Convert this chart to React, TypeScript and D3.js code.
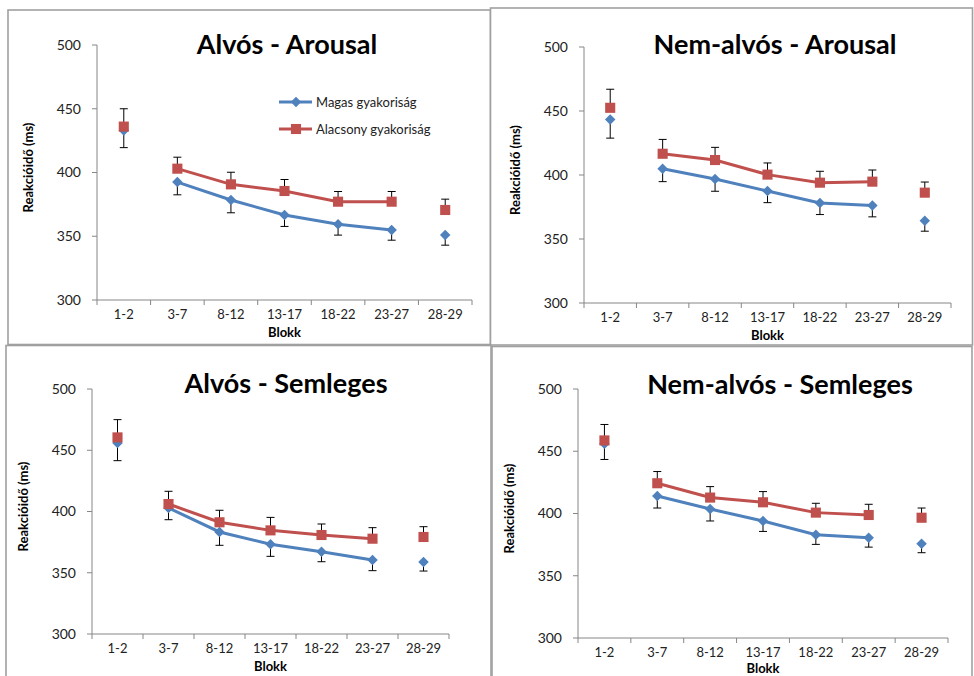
import * as d3 from "d3";

// Blokk categories on the x axis
const categories = ["1-2", "3-7", "8-12", "13-17", "18-22", "23-27", "28-29"];
// which points are joined by the series line
const linked = [false, true, true, true, true, true, false];
const yTicks = [300, 350, 400, 450, 500];

const seriesNames = ["Magas gyakoriság", "Alacsony gyakoriság"];
const titles = ["Alvós - Arousal", "Nem-alvós - Arousal", "Alvós - Semleges", "Nem-alvós - Semleges"];

// Alvós - Arousal
const alvosArousalMagas = [433, 392.5, 378.4, 366.7, 359.4, 354.9, 351];
const alvosArousalMagasErr = [13.5, 10, 10, 9, 8.5, 8, 8];
const alvosArousalAlacsony = [436, 403, 390.7, 385.5, 377.1, 377.1, 370.6];
const alvosArousalAlacsonyErr = [14, 9, 9.5, 9, 8, 8, 8.5];

// Nem-alvós - Arousal
const nemAlvosArousalMagas = [443.4, 404.9, 396.9, 387.5, 378.2, 376.1, 364.2];
const nemAlvosArousalMagasErr = [14.6, 10.1, 9.6, 9.1, 9.1, 8.8, 8.1];
const nemAlvosArousalAlacsony = [452.5, 416.6, 411.7, 400.3, 394, 394.8, 386.2];
const nemAlvosArousalAlacsonyErr = [14.5, 11.2, 9.9, 9.1, 8.9, 9.1, 8.3];

// Alvós - Semleges
const alvosSemlegesMagas = [455.9, 402.9, 383.3, 373.2, 367.2, 360.4, 358.8];
const alvosSemlegesMagasErr = [14.4, 9.6, 10.9, 9.8, 8.2, 8.7, 7.4];
const alvosSemlegesAlacsony = [460.5, 406.1, 391.2, 384.6, 380.8, 377.8, 379.2];
const alvosSemlegesAlacsonyErr = [14.5, 10.4, 9.8, 10.6, 9, 9, 8.4];

// Nem-alvós - Semleges
const nemAlvosSemlegesMagas = [456, 414.1, 403.6, 394, 382.9, 380.5, 375.7];
const nemAlvosSemlegesMagasErr = [12.6, 9.7, 9.6, 8.4, 7.7, 7.5, 7.2];
const nemAlvosSemlegesAlacsony = [458.7, 424.3, 412.8, 409, 400.7, 398.8, 396.6];
const nemAlvosSemlegesAlacsonyErr = [12.8, 9.4, 8.8, 8.6, 7.5, 8.6, 7.8];

const BLUE = "#4F81BD";
const RED = "#C0504D";
const AXIS = "#868686";
const FRAME = "#a0a0a0";
const FONT = "Lato, 'Open Sans', sans-serif";

// frame, plot area and title anchor for each panel
const panels = [
  { frame: [8, 10, 490.5, 344.5], plot: [97, 472, 45, 300], title: [287, 54], legend: true,
    magas: alvosArousalMagas, magasErr: alvosArousalMagasErr,
    alacsony: alvosArousalAlacsony, alacsonyErr: alvosArousalAlacsonyErr },
  { frame: [490.5, 8, 972.5, 345], plot: [584, 951, 47, 303], title: [775, 54], legend: false,
    magas: nemAlvosArousalMagas, magasErr: nemAlvosArousalMagasErr,
    alacsony: nemAlvosArousalAlacsony, alacsonyErr: nemAlvosArousalAlacsonyErr },
  { frame: [6, 345.5, 491, 690], plot: [92, 449, 389, 634], title: [286, 393], legend: false,
    magas: alvosSemlegesMagas, magasErr: alvosSemlegesMagasErr,
    alacsony: alvosSemlegesAlacsony, alacsonyErr: alvosSemlegesAlacsonyErr },
  { frame: [492, 346.5, 972, 690], plot: [578, 948, 389, 638], title: [780, 394], legend: false,
    magas: nemAlvosSemlegesMagas, magasErr: nemAlvosSemlegesMagasErr,
    alacsony: nemAlvosSemlegesAlacsony, alacsonyErr: nemAlvosSemlegesAlacsonyErr },
];

const diamond = d3.symbol().type(d3.symbolDiamond2).size(70)();
const square = d3.symbol().type(d3.symbolSquare2).size(130)();

function Panel({ p, title }: any) {
  const [x0, x1, yTop, yBot] = p.plot;
  const x = d3.scaleBand().domain(categories).range([x0, x1]);
  const y = d3.scaleLinear().domain([300, 500]).range([yBot, yTop]);
  const cx = (c: string) => (x(c) as number) + x.bandwidth() / 2;

  const line = d3.line<number>()
    .defined((_, i) => linked[i])
    .x((_, i) => cx(categories[i]))
    .y((v) => y(v));

  const [fx0, fy0, fx1, fy1] = p.frame;
  const midX = (x0 + x1) / 2;

  return (
    <g>
      <rect x={fx0} y={fy0} width={fx1 - fx0} height={fy1 - fy0} fill="white" stroke={FRAME} strokeWidth={1.6} />
      <text x={p.title[0]} y={p.title[1]} textAnchor="middle" fontFamily={FONT} fontWeight="bold" fontSize={27} fill="#000">
        {title}
      </text>

      {/* y axis */}
      <line x1={x0} x2={x0} y1={yTop} y2={yBot} stroke={AXIS} />
      {yTicks.map((t) => (
        <g key={t}>
          <line x1={x0 - 5} x2={x0} y1={y(t)} y2={y(t)} stroke={AXIS} />
          <text x={x0 - 16} y={y(t)} dy="0.35em" textAnchor="end" fontFamily={FONT} fontSize={14} fill="#222">
            {t}
          </text>
        </g>
      ))}
      <text
        transform={`translate(${x0 - 69},${(yTop + yBot) / 2 - 5}) rotate(-90)`}
        dy="0.35em" textAnchor="middle" fontFamily={FONT} fontWeight="bold" fontSize={13} fill="#000"
      >
        Reakcióidő  (ms)
      </text>

      {/* x axis */}
      <line x1={x0} x2={x1} y1={yBot} y2={yBot} stroke={AXIS} />
      {categories.map((c, i) => (
        <line key={"t" + c} x1={x0 + i * x.bandwidth()} x2={x0 + i * x.bandwidth()} y1={yBot} y2={yBot + 5} stroke={AXIS} />
      ))}
      <line x1={x1} x2={x1} y1={yBot} y2={yBot + 5} stroke={AXIS} />
      {categories.map((c) => (
        <text key={"l" + c} x={cx(c)} y={yBot + 14} dy="0.35em" textAnchor="middle" fontFamily={FONT} fontSize={13} fill="#222">
          {c}
        </text>
      ))}
      <text x={midX} y={Math.min(yBot + 37, 673)} textAnchor="middle" fontFamily={FONT} fontWeight="bold" fontSize={13} fill="#000">
        Blokk
      </text>

      {/* lines */}
      <path d={line(p.magas) || ""} fill="none" stroke={BLUE} strokeWidth={3} />
      <path d={line(p.alacsony) || ""} fill="none" stroke={RED} strokeWidth={3} />

      {/* error bars: Alacsony upward, Magas downward */}
      {categories.map((c, i) => {
        const xc = cx(c);
        const yb = y(p.magas[i] - p.magasErr[i]);
        const yr = y(p.alacsony[i] + p.alacsonyErr[i]);
        return (
          <g key={"e" + c} stroke="#000" strokeWidth={1}>
            <line x1={xc} x2={xc} y1={y(p.magas[i])} y2={yb} />
            <line x1={xc - 4} x2={xc + 4} y1={yb} y2={yb} />
            <line x1={xc} x2={xc} y1={y(p.alacsony[i])} y2={yr} />
            <line x1={xc - 4} x2={xc + 4} y1={yr} y2={yr} />
          </g>
        );
      })}

      {/* markers */}
      {categories.map((c, i) => (
        <path key={"m" + c} d={diamond} transform={`translate(${cx(c)},${y(p.magas[i])})`} fill={BLUE} />
      ))}
      {categories.map((c, i) => (
        <path key={"a" + c} d={square} transform={`translate(${cx(c)},${y(p.alacsony[i])})`} fill={RED} />
      ))}

      {p.legend && (
        <g fontFamily={FONT} fontSize={13} fill="#222">
          {seriesNames.map((s, i) => {
            const ly = yTop + 57 + i * 27;
            const lx = x0 + 182;
            return (
              <g key={s}>
                <line x1={lx} x2={lx + 33} y1={ly} y2={ly} stroke={i === 0 ? BLUE : RED} strokeWidth={3} />
                <path d={i === 0 ? diamond : square} transform={`translate(${lx + 17},${ly})`} fill={i === 0 ? BLUE : RED} />
                <text x={lx + 37} y={ly} dy="0.35em">{s}</text>
              </g>
            );
          })}
        </g>
      )}
    </g>
  );
}

export default function App() {
  return (
    <svg width={974} height={676} style={{ position: "absolute", left: 0, top: 0, background: "white" }}>
      <rect width={974} height={676} fill="white" />
      {panels.map((p, i) => (
        <Panel key={i} p={p} title={titles[i]} />
      ))}
    </svg>
  );
}
